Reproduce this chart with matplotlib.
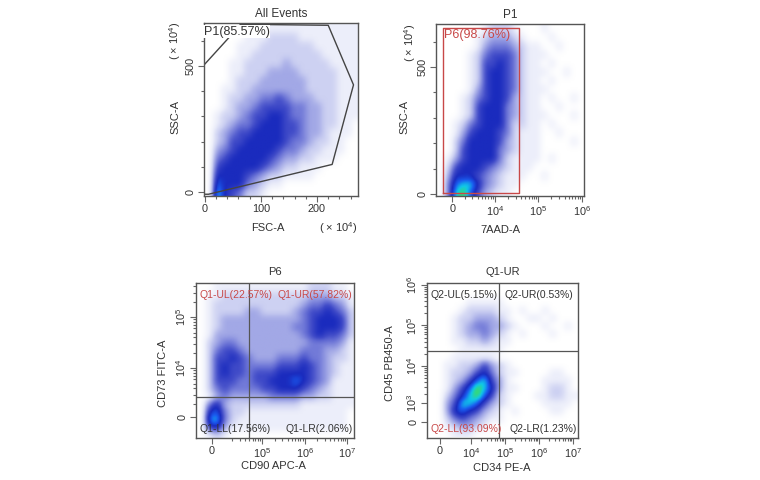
import numpy as np
import matplotlib
matplotlib.use("Agg")
import matplotlib.pyplot as plt
from matplotlib.colors import LinearSegmentedColormap

plt.rcParams['font.family'] = ['Liberation Sans', 'DejaVu Sans']
plt.rcParams['mathtext.fontset'] = 'custom'
plt.rcParams['mathtext.rm'] = 'Liberation Sans'
plt.rcParams['mathtext.it'] = 'Liberation Sans:italic'

# ---- data ---------------------------------------------------------------
# event density per panel, 20x20 cells over the plot area (top row first),
# 0 = empty ... 9 = hottest (green)
dens_all_events = [
    "00000111111111111111",
    "00000111222211111111",
    "00001112222222111111",
    "00001122222222211111",
    "00011222223222221111",
    "00011222333322222111",
    "00012223333332222111",
    "00112233333332222111",
    "00122334454333222111",
    "00123345555443322111",
    "01223455665443322111",
    "01234456665543322110",
    "02345566665543321110",
    "02355666665443221100",
    "03456666654432211100",
    "04566666543322111000",
    "05666665432211100000",
    "06666543221111000000",
    "07666432110000000000",
    "08654221000000000000",
]
dens_p1 = [
    "00000012221000100000",
    "00000123332100010000",
    "00000134443211001000",
    "00001245554211100000",
    "00001255654211010000",
    "00001256654211100100",
    "00001256654211010000",
    "00001356654211100000",
    "00012456653211010010",
    "00012566643211001000",
    "00012566643211100010",
    "00124566642211010000",
    "00135666542111001000",
    "00246666532111000010",
    "00256666432111000000",
    "01356666421111010000",
    "02566654321110000000",
    "03666543211100100000",
    "04788643211000000000",
    "04897532110000000000",
]
dens_p6 = [
    "00111111111111222110",
    "01122222222222333221",
    "01222222222223445431",
    "01222233222234556542",
    "01233333333334566652",
    "01233333333344566652",
    "01333333333334565542",
    "02344333333333444431",
    "02455433333334443321",
    "02556543334445443221",
    "02565544445556543211",
    "02565545556666543211",
    "02555445566676543111",
    "02454444556665432111",
    "01343333344443322111",
    "04632222222221111111",
    "06742211111111111110",
    "07842111111111111110",
    "05631111111111111110",
    "01210000000000000000",
]
dens_q1ur = [
    "00000000000000000000",
    "00000000000000000000",
    "00000111110000000000",
    "00001222211010010000",
    "00012233321001101000",
    "00012344332100010010",
    "00012334321010001000",
    "00011223211000000000",
    "00001111110000000000",
    "00011111100000000000",
    "00112235321000000000",
    "00122356421100001100",
    "00123578531000011110",
    "00135798631100012210",
    "00246897521000112211",
    "00358875321000011110",
    "00367653210100001100",
    "00245432110000000000",
    "00123321000000000000",
    "00011100000000000000",
]

# gates
p1_gate_x = [-1, 44, 64, 220, 265, 227, 7, -1]
p1_gate_y = [504, 614, 665, 661, 425, 110, -8, -8]
p6_gate = (2.80, 4.55, 4, 654)          # x0, x1 (decade units), y0, y1
q1_cut = (4.69, 3.44)                    # CD90, CD73 thresholds
q2_cut = (4.82, 4.37)                    # CD34, CD45 thresholds

# axis ticks (decade units for fluorescence channels)
lin_ticks = [0, 100, 200]
lin_labels = ["0", "100", "200"]
ssc_ticks = [0, 500]
ssc_labels = ["0", "500"]
aad_ticks = [3.02, 4, 5, 6]
aad_labels = ["0", "$10^4$", "$10^5$", "$10^6$"]
cd90_ticks = [3.82, 5, 6, 7]
cd90_labels = ["0", "$10^5$", "$10^6$", "$10^7$"]
cd73_ticks = [3.04, 4, 5]
cd73_labels = ["0", "$10^4$", "$10^5$"]
cd34_ticks = [3.09, 4, 5, 6, 7]
cd34_labels = ["0", "$10^4$", "$10^5$", "$10^6$", "$10^7$"]
cd45_ticks = [2.62, 3.09, 4, 5, 6]
cd45_labels = ["0", "$10^3$", "$10^4$", "$10^5$", "$10^6$"]

# ---- drawing -------------------------------------------------------------
W, H = 760, 480
RED = "#c84848"
TXT = "#333333"
FRAME = "#555555"
FS = 8
QFS = 7.5

cmap = LinearSegmentedColormap.from_list("flow", [
    (0.0, "#ffffff"), (1 / 9, "#eceefa"), (2 / 9, "#cdd1f2"),
    (3 / 9, "#a2a8e6"), (4 / 9, "#727ad8"), (5 / 9, "#3f4ac8"),
    (6 / 9, "#1a2bbe"), (7 / 9, "#1a5cf0"), (8 / 9, "#10c8e8"),
    (1.0, "#44e04a")])


def grid(rows):
    return np.array([[int(c) for c in r] for r in rows], dtype=float)


def smooth(a, k=6, passes=2):
    big = np.kron(a, np.ones((k, k)))
    ker = np.ones(k) / k
    for _ in range(passes):
        for axis in (0, 1):
            big = np.apply_along_axis(
                lambda m: np.convolve(np.pad(m, k, mode="edge"), ker, mode="same")[k:-k],
                axis, big)
    return big


def make_ax(fig, left, top, right, bottom):
    ax = fig.add_axes([left / W, 1 - bottom / H, (right - left) / W, (bottom - top) / H])
    for s in ax.spines.values():
        s.set_color(FRAME)
        s.set_linewidth(1.0)
    ax.tick_params(which="both", direction="out", colors="#666666", labelcolor=TXT,
                   labelsize=7.8, width=0.8, pad=2)
    ax.tick_params(which="major", length=4)
    ax.tick_params(which="minor", length=2.5)
    return ax


def log_minors(lo, hi, first, last):
    out = []
    for k in range(first, last + 1):
        for m in range(2, 10):
            v = k + np.log10(m)
            if lo < v < hi:
                out.append(v)
    return out


def density(ax, rows, xlim, ylim):
    ax.imshow(smooth(grid(rows)), extent=(xlim[0], xlim[1], ylim[0], ylim[1]),
              origin="upper", aspect="auto", cmap=cmap, vmin=0, vmax=9,
              interpolation="bilinear", zorder=0)
    ax.set_xlim(*xlim)
    ax.set_ylim(*ylim)


def yticks(ax, ticks, labels):
    ax.set_yticks(ticks)
    ax.set_yticklabels(labels, rotation=90, va="center")


def labels(ax, xl, xpos, yl, ypos):
    ax.set_xlabel(xl, fontsize=FS, color=TXT)
    ax.set_ylabel(yl, fontsize=FS, color=TXT)
    ax.xaxis.set_label_coords(*xpos)
    ax.yaxis.set_label_coords(*ypos)
    ax.xaxis.label.set_va("center")
    ax.yaxis.label.set_va("center")


def quad_text(ax, x, y, s, color, ha):
    ax.text(x, y, s, transform=ax.transAxes, fontsize=QFS, color=color,
            ha=ha, va="center", zorder=5)


fig = plt.figure(figsize=(7.6, 4.8), dpi=100)

# All Events
ax1 = make_ax(fig, 203.5, 23, 358, 196)
density(ax1, dens_all_events, (-2, 273), (-15, 670))
ax1.plot(p1_gate_x + [p1_gate_x[0]], p1_gate_y + [p1_gate_y[0]], color="#444444", lw=1.0)
ax1.set_xticks(lin_ticks)
ax1.set_xticklabels(lin_labels)
yticks(ax1, ssc_ticks, ssc_labels)
ax1.set_xticks(np.arange(20, 273, 20), minor=True)
ax1.set_yticks(np.arange(100, 670, 100), minor=True)
ax1.text(0.0, 0.985, "P1(85.57%)", transform=ax1.transAxes, fontsize=9, color=TXT,
         ha="left", va="top", bbox=dict(fc="white", ec="none", pad=0.4), zorder=5)
ax1.set_title("All Events", fontsize=8.5, color=TXT, pad=4)
labels(ax1, "FSC-A", (0.417, -0.185), "SSC-A", (-0.184, 0.457))
ax1.text(0.87, -0.185, "( × 10$^4$)", transform=ax1.transAxes, fontsize=FS, color=TXT,
         ha="center", va="center")
ax1.text(-0.185, 0.90, "( × 10$^4$)", transform=ax1.transAxes, fontsize=FS, color=TXT,
         ha="center", va="center", rotation=90)

# P1
ax2 = make_ax(fig, 436, 23.5, 584, 196)
density(ax2, dens_p1, (2.64, 6.05), (-8, 671))
x0, x1, y0, y1 = p6_gate
ax2.plot([x0, x0, x1, x1, x0], [y0, y1, y1, y0, y0], color=RED, lw=1.0)
ax2.set_xticks(aad_ticks)
ax2.set_xticklabels(aad_labels)
yticks(ax2, ssc_ticks, ssc_labels)
ax2.set_xticks(log_minors(2.64, 6.05, 3, 5), minor=True)
ax2.set_yticks(np.arange(100, 670, 100), minor=True)
ax2.text(x0 + 0.03, y1 - 4, "P6(98.76%)", fontsize=9, color=RED, ha="left", va="top",
         zorder=5)
ax2.set_title("P1", fontsize=8.5, color=TXT, pad=4)
labels(ax2, "7AAD-A", (0.432, -0.197), "SSC-A", (-0.21, 0.458))
ax2.text(-0.176, 0.887, "( × 10$^4$)", transform=ax2.transAxes, fontsize=FS, color=TXT,
         ha="center", va="center", rotation=90)

# P6
ax3 = make_ax(fig, 196, 283, 354, 437.5)
density(ax3, dens_p6, (3.45, 7.16), (2.64, 5.67))
ax3.axvline(q1_cut[0], color="#555555", lw=0.9)
ax3.axhline(q1_cut[1], color="#555555", lw=0.9)
ax3.set_xticks(cd90_ticks)
ax3.set_xticklabels(cd90_labels)
yticks(ax3, cd73_ticks, cd73_labels)
ax3.set_xticks(log_minors(3.45, 7.16, 4, 6), minor=True)
ax3.set_yticks(log_minors(2.64, 5.67, 3, 5), minor=True)
quad_text(ax3, 0.02, 0.925, "Q1-UL(22.57%)", RED, "left")
quad_text(ax3, 0.99, 0.925, "Q1-UR(57.82%)", RED, "right")
quad_text(ax3, 0.02, 0.055, "Q1-LL(17.56%)", TXT, "left")
quad_text(ax3, 0.99, 0.055, "Q1-LR(2.06%)", TXT, "right")
ax3.set_title("P6", fontsize=FS, color=TXT, pad=6)
labels(ax3, "CD90 APC-A", (0.487, -0.184), "CD73 FITC-A", (-0.209, 0.417))

# Q1-UR
ax4 = make_ax(fig, 427, 283, 578, 437.5)
density(ax4, dens_q1ur, (2.71, 7.15), (2.23, 6.05))
ax4.axvline(q2_cut[0], color="#555555", lw=0.9)
ax4.axhline(q2_cut[1], color="#555555", lw=0.9)
ax4.set_xticks(cd34_ticks)
ax4.set_xticklabels(cd34_labels)
yticks(ax4, cd45_ticks, cd45_labels)
ax4.set_xticks(log_minors(2.71, 7.15, 4, 6), minor=True)
ax4.set_yticks(log_minors(3.1, 6.05, 3, 5), minor=True)
quad_text(ax4, 0.02, 0.925, "Q2-UL(5.15%)", TXT, "left")
quad_text(ax4, 0.97, 0.925, "Q2-UR(0.53%)", TXT, "right")
quad_text(ax4, 0.02, 0.055, "Q2-LL(93.09%)", RED, "left")
quad_text(ax4, 0.99, 0.055, "Q2-LR(1.23%)", TXT, "right")
ax4.set_title("Q1-UR", fontsize=FS, color=TXT, pad=6)
labels(ax4, "CD34 PE-A", (0.497, -0.197), "CD45 PB450-A", (-0.245, 0.48))

fig.savefig("out.png", dpi=100, facecolor="white")
